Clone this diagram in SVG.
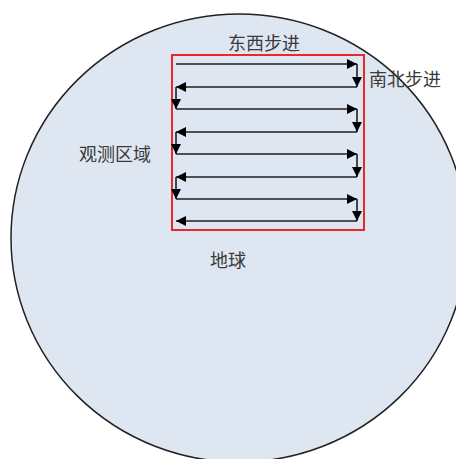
<svg xmlns="http://www.w3.org/2000/svg" width="456" height="459" viewBox="0 0 456 459">
<defs>
<marker id="ah" viewBox="0 0 10 10" refX="10" refY="5" markerWidth="12" markerHeight="10" markerUnits="userSpaceOnUse" orient="auto">
<path d="M0,0 L10,5 L0,10 Z" fill="#000"/>
</marker>
<style>
.lbl{font-family:"Noto Sans CJK SC","Liberation Serif",sans-serif;font-size:18px;fill:#3a3a3a;}
.seg{stroke:#1e1e1e;stroke-width:1.6;fill:none;marker-end:url(#ah);}
</style>
</defs>
<rect width="456" height="459" fill="#ffffff"/>
<g id="earth">
<ellipse cx="239" cy="238" rx="228" ry="224" fill="#dee6f1" stroke="#222" stroke-width="1.5"/>
<text class="lbl" x="210" y="267">地球</text>
</g>
<g id="region">
<rect x="172" y="55" width="192" height="175" fill="none" stroke="#e8282a" stroke-width="2"/>
<text class="lbl" x="79" y="161">观测区域</text>
</g>
<g id="labels">
<text class="lbl" x="228" y="50">东西步进</text>
<text class="lbl" x="369" y="86">南北步进</text>
</g>
<g id="connectors">
<line class="seg" x1="176" y1="64" x2="357" y2="64"/>
<line class="seg" x1="357" y1="64" x2="357" y2="87"/>
<line class="seg" x1="357" y1="87" x2="176" y2="87"/>
<line class="seg" x1="176" y1="87" x2="176" y2="109"/>
<line class="seg" x1="176" y1="109" x2="357" y2="109"/>
<line class="seg" x1="357" y1="109" x2="357" y2="132"/>
<line class="seg" x1="357" y1="132" x2="176" y2="132"/>
<line class="seg" x1="176" y1="132" x2="176" y2="154"/>
<line class="seg" x1="176" y1="154" x2="357" y2="154"/>
<line class="seg" x1="357" y1="154" x2="357" y2="177"/>
<line class="seg" x1="357" y1="177" x2="176" y2="177"/>
<line class="seg" x1="176" y1="177" x2="176" y2="199"/>
<line class="seg" x1="176" y1="199" x2="357" y2="199"/>
<line class="seg" x1="357" y1="199" x2="357" y2="221"/>
<line class="seg" x1="357" y1="221" x2="176" y2="221"/>
</g>
</svg>
